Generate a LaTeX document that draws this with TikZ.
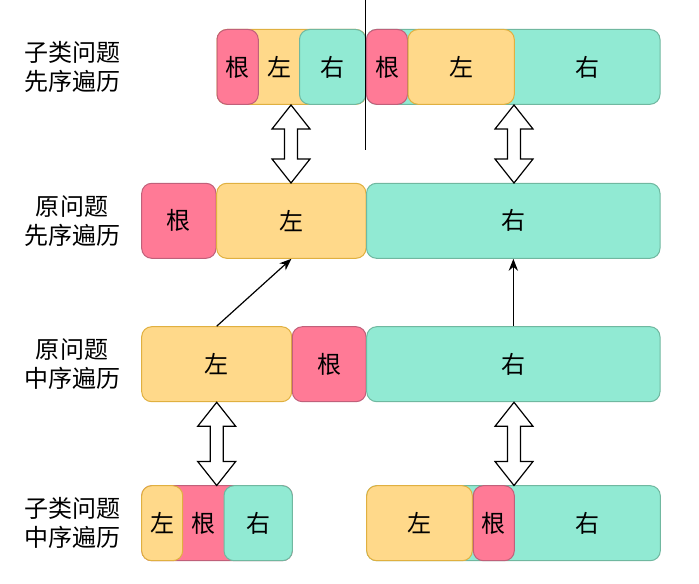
\documentclass[tikz,border=0pt]{standalone}
\usepackage{fontspec}
\newfontfamily\cjk{Noto Sans CJK SC}
\usetikzlibrary{arrows.meta,calc}
\definecolor{pinkf}{HTML}{FF7A96}
\definecolor{pinkd}{HTML}{C0607A}
\definecolor{yelf}{HTML}{FFD98A}
\definecolor{yeld}{HTML}{E0B040}
\definecolor{teaf}{HTML}{91EAD3}
\definecolor{tead}{HTML}{70B8A0}
\tikzset{
 cell/.style={rounded corners=7.5pt, line width=0.75pt, inner sep=0pt},
 pk/.style={cell, fill=pinkf, draw=pinkd},
 yl/.style={cell, fill=yelf, draw=yeld},
 tl/.style={cell, fill=teaf, draw=tead},
 txt/.style={inner sep=0pt, font=\cjk\fontsize{18pt}{21pt}\selectfont, text=black},
 lbl/.style={font=\cjk\fontsize{18pt}{21.75pt}\selectfont, align=center, inner sep=0pt},
 arr/.style={-{Stealth[length=9pt,width=7pt]}, line width=0.9pt},
 dbl/.style={draw=black, fill=white, line width=0.9pt, line join=miter},
}
% style, name, x1, x2, y1, y2
\newcommand\cellbox[6]{\node[#1, minimum width={(#4-#3)*0.75pt}, minimum height={(#6-#5)*0.75pt}] (#2) at ({(#3+#4)/2},{(#5+#6)/2}) {};}
% x, ytop, ybottom
\newcommand\dblarrow[3]{%
 \draw[dbl] (#1,#2) -- ++(19,24) -- ++(-12.5,0) -- (#1+6.5,#3-24) -- ++(12.5,0) -- (#1,#3) -- ++(-19,-24) -- ++(12.5,0) -- (#1-6.5,#2+24) -- ++(-12.5,0) -- cycle;}
\begin{document}
\begin{tikzpicture}[x=0.75pt,y=-0.75pt]
\useasboundingbox (0,0) rectangle (699,584);
% labels
\node[lbl] (L1) at (72,66.8) {子类问题\\先序遍历};
\node[lbl] (L2) at (72,220.8) {原问题\\先序遍历};
\node[lbl] (L3) at (72,364.2) {原问题\\中序遍历};
\node[lbl] (L4) at (72,523.2) {子类问题\\中序遍历};
% row 1
\cellbox{yl}{a1l}{217}{366}{29.5}{104.3}
\cellbox{pk}{a1r}{217}{258.3}{29.5}{104.3}
\cellbox{tl}{a1t}{299.5}{365.7}{29.5}{104.3}
\cellbox{tl}{b1t}{366.5}{660}{29.5}{104.3}
\cellbox{pk}{b1r}{366.5}{407.5}{29.5}{104.3}
\cellbox{yl}{b1l}{408}{514.3}{29.5}{104.3}
\node[txt] (a1rt) at (237.6,66.9) {根};
\node[txt] (a1lt) at (279,66.9) {左};
\node[txt] (a1tt) at (332.6,66.9) {右};
\node[txt] (b1rt) at (387,66.9) {根};
\node[txt] (b1lt) at (461,66.9) {左};
\node[txt] (b1tt) at (587,66.9) {右};
\draw[line width=0.75pt] (365,0) coordinate (v0) -- (365,150) coordinate (v1);
% row 2
\cellbox{pk}{r2r}{141.7}{216}{183.3}{258.3}
\cellbox{yl}{r2l}{216.7}{366}{183.3}{258.3}
\cellbox{tl}{r2t}{366.5}{660}{183.3}{258.3}
\node[txt] (r2rt) at (r2r) {根};
\node[txt] (r2lt) at (r2l) {左};
\node[txt] (r2tt) at (r2t) {右};
% row 3
\cellbox{yl}{r3l}{141.7}{291.7}{326.7}{401.7}
\cellbox{pk}{r3r}{292.3}{366}{326.7}{401.7}
\cellbox{tl}{r3t}{366.7}{660}{326.7}{401.7}
\node[txt] (r3lt) at (r3l) {左};
\node[txt] (r3rt) at (r3r) {根};
\node[txt] (r3tt) at (r3t) {右};
% row 4
\cellbox{pk}{c4r}{141.7}{292.3}{485.7}{560.7}
\cellbox{yl}{c4l}{141.7}{182.7}{485.7}{560.7}
\cellbox{tl}{c4t}{224}{292.3}{485.7}{560.7}
\cellbox{tl}{d4t}{366.7}{660.3}{485.7}{560.7}
\cellbox{yl}{d4l}{366.7}{472.3}{485.7}{560.7}
\cellbox{pk}{d4r}{473.3}{514.3}{485.7}{560.7}
\node[txt] (c4lt) at (c4l) {左};
\node[txt] (c4rt) at (203.4,523.2) {根};
\node[txt] (c4tt) at (c4t) {右};
\node[txt] (d4lt) at (d4l) {左};
\node[txt] (d4rt) at (d4r) {根};
\node[txt] (d4tt) at (587,523.2) {右};
% arrows
\draw[arr] (r3l.north) -- (r2l.south);
\draw[arr] (r3t.north) -- (r3t.north |- r2t.south);
% double arrows
\dblarrow{291}{105}{183}
\dblarrow{514}{105}{183}
\dblarrow{216.7}{402.3}{485.5}
\dblarrow{514}{402.3}{485.5}
\end{tikzpicture}
\end{document}
